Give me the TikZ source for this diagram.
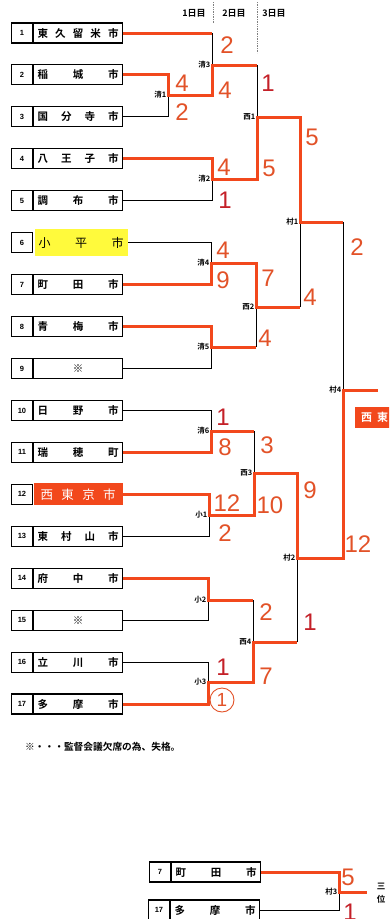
\documentclass[tikz,border=0pt]{standalone}
\usepackage{fontspec}
\setmainfont{Liberation Sans}
\setsansfont{Liberation Sans}
\newfontfamily\jp{Noto Sans CJK JP}[BoldFont={Noto Sans CJK JP Bold}]
\usetikzlibrary{positioning}

\definecolor{tred}{RGB}{242,72,28}
\definecolor{tscore}{RGB}{226,82,40}
\definecolor{tdark}{RGB}{196,32,40}
\definecolor{hilite}{RGB}{255,250,60}

\tikzset{
  numcell/.style={draw, line width=1.1pt, minimum width=21pt, minimum height=20pt, inner sep=0pt, font=\bfseries\fontsize{7.5}{8}\selectfont},
  namecell/.style={draw, line width=1.1pt, minimum height=20pt, text width=81pt, inner xsep=4pt, inner ysep=0pt, font=\jp\bfseries\fontsize{10.5}{11}\selectfont},
  winline/.style={tred, line width=3pt},
  loseline/.style={black, line width=0.9pt},
  tag/.style={anchor=east, inner sep=0pt, xshift=-1.5pt, font=\jp\bfseries\fontsize{7.5}{8}\selectfont},
  score/.style={inner sep=0pt, font=\fontsize{24}{24}\selectfont},
  day/.style={inner sep=0pt, font=\jp\bfseries\fontsize{9}{9}\selectfont},
  dayrule/.style={gray, densely dotted, line width=0.7pt},
}

\begin{document}
\begin{tikzpicture}[x=1pt, y=-1pt]
\useasboundingbox (0,0) rectangle (389,919);
\clip (0,0) rectangle (389,919);

% day headers
\node[day] (d1) at (194,13) {1日目};
\node[day] (d2) at (234,13) {2日目};
\node[day] (d3) at (274,13) {3日目};
\draw[dayrule] (213,2) -- (213,23);
\draw[dayrule] (257,2) -- (257,53);

% teams
\foreach \i/\nm in {1/東\hfill 久\hfill 留\hfill 米\hfill 市, 2/稲\hfill 城\hfill 市,
    3/国\hfill 分\hfill 寺\hfill 市, 4/八\hfill 王\hfill 子\hfill 市, 5/調\hfill 布\hfill 市,
    7/町\hfill 田\hfill 市, 8/青\hfill 梅\hfill 市, 9/\hfill ※\hfill\mbox{}, 10/日\hfill 野\hfill 市,
    11/瑞\hfill 穂\hfill 町, 13/東\hfill 村\hfill 山\hfill 市, 14/府\hfill 中\hfill 市,
    15/\hfill ※\hfill\mbox{}, 16/立\hfill 川\hfill 市, 17/多\hfill 摩\hfill 市}
{
  \node[numcell] (n\i) at (22,{33+41.94*(\i-1)}) {\i};
  \node[namecell, right=0pt of n\i] (b\i) {\nm};
}
\node[numcell] (n6) at (22,{33+41.94*5}) {6};
\node[namecell, draw=none, fill=hilite, minimum height=27pt, text width=85pt,
  font=\jp\fontsize{12}{12}\selectfont, right=1pt of n6] (b6) {小\hfill 平\hfill 市};
\node[numcell] (n12) at (22,{33+41.94*11}) {12};
\node[namecell, draw=none, fill=tred, text=white, minimum height=22pt, text width=75pt, inner xsep=7pt,
  font=\jp\fontsize{12.5}{13}\selectfont, right=0pt of n12] (b12) {西\hfill 東\hfill 京\hfill 市};

% third place boxes
\node[numcell] (n7b) at (160,872) {7};
\node[namecell, right=0pt of n7b] (c7) {町\hfill 田\hfill 市};
\node[numcell] (n17b) at (159,910) {17};
\node[namecell, right=0pt of n17b] (c17) {多\hfill 摩\hfill 市};

% match points
\coordinate (k1) at (168,95);
\coordinate (k3) at (212,65);
\coordinate (k2) at (212,179);
\coordinate (k4) at (211,263);
\coordinate (k5) at (211,347);
\coordinate (k6) at (211,431);
\coordinate (s1) at (209,515);
\coordinate (s2) at (208,600);
\coordinate (s3) at (208,682);
\coordinate (w1) at (257,117);
\coordinate (w2) at (256,307);
\coordinate (w3) at (254,473);
\coordinate (w4) at (253,642);
\coordinate (m1) at (300,222);
\coordinate (m2) at (297,558);
\coordinate (m4) at (343,390);
\coordinate (champ) at (378,390);
\coordinate (m3) at (339,892);
\coordinate (third) at (367,892);

% losing sides
\draw[loseline] (b3.east) -| (k1);
\draw[loseline] (b1 -| k3) -- (k3);
\draw[loseline] (b5.east) -| (k2);
\draw[loseline] (k3 -| w1) -- (w1);
\draw[loseline] (m1 -| m4) -- (m4);
\draw[loseline] (b6.east) -| (k4);
\draw[loseline] (b9.east) -| (k5);
\draw[loseline] (k5 -| w2) -- (w2);
\draw[loseline] (w2 -| m1) -- (m1);
\draw[loseline] (b10.east) -| (k6);
\draw[loseline] (k6 -| w3) -- (w3);
\draw[loseline] (b13.east) -| (s1);
\draw[loseline] (b15.east) -| (s2);
\draw[loseline] (s2 -| w4) -- (w4);
\draw[loseline] (b16.east) -| (s3);
\draw[loseline] (w4 -| m2) -- (m2);
\draw[loseline] (c17.east) -| (m3);

% winning sides
\draw[winline] (b1.east) -- (b1 -| k3);
\draw[winline] (b2.east) -| (k1) -| (k3) -- (k3 -| w1);
\draw[winline] (b4.east) -| (k2) -| (w1) -| (m1) -- (m1 -| m4);
\draw[winline] (b7.east) -| (k4) -| (w2) -- (w2 -| m1);
\draw[winline] (b8.east) -| (k5) -- (k5 -| w2);
\draw[winline] (b11.east) -| (k6) -- (k6 -| w3);
\draw[winline] (b12.east) -| (s1) -| (w3) -| (m2) -| (m4) -- (champ);
\draw[winline] (b14.east) -| (s2) -- (s2 -| w4);
\draw[winline] (b17.east) -| (s3) -| (w4) -- (w4 -| m2);
\draw[winline] (c7.east) -| (m3) -- (third);

% match names
\foreach \j/\t in {k1/清1, k2/清2, k3/清3, k4/清4, k5/清5, k6/清6, s1/小1, s2/小2, s3/小3,
    w1/西1, w2/西2, w3/西3, w4/西4, m1/村1, m2/村2, m3/村3, m4/村4}
  \node[tag] (t-\j) at (\j) {\t};

% scores
\foreach \t/\x/\y/\c [count=\n] in {4/182/83/tscore, 2/182/112/tscore, 2/227/45/tscore, 4/225/90/tscore,
    4/224/167/tscore, 1/225/200/tdark, 1/268/83/tdark, 5/269/168/tscore, 5/312/137/tscore,
    4/310/297/tscore, 4/223/250/tscore, 9/223/280/tscore, 7/268/278/tscore, 4/265/338/tscore,
    2/357/247/tscore, 12/358/544/tscore, 1/223/417/tdark, 8/225/447/tscore, 12/227/503/tscore,
    2/225/533/tscore, 3/267/445/tscore, 10/270/505/tscore, 9/310/490/tscore, 1/310/622/tdark,
    2/266/612/tscore, 7/266/676/tscore, 1/223/667/tdark, 5/348/877/tscore, 1/350/912/tdark}
  \node[score, text=\c] (sc\n) at (\x,\y) {\t};
\node[circle, draw=tscore, line width=0.9pt, minimum size=24pt, inner sep=0pt, text=tscore,
  font=\fontsize{19}{19}\selectfont] (pk) at (222,700) {1};

% winner and notes
\node[anchor=west, fill=tred, text=white, minimum height=21pt, inner xsep=6pt,
  font=\jp\bfseries\fontsize{11}{11}\selectfont] (winner) at (355,417.5) {西\hspace{5pt}東\hspace{5pt}京\hspace{5pt}市};
\node[align=center, inner sep=0pt, font=\jp\bfseries\fontsize{8.5}{13}\selectfont] (rank) at (381,893) {三\\位};
\node[anchor=west, inner sep=0pt, font=\jp\bfseries\fontsize{9.7}{10}\selectfont] (note) at (25,747) {※・・・監督会議欠席の為、失格。};
\end{tikzpicture}
\end{document}
